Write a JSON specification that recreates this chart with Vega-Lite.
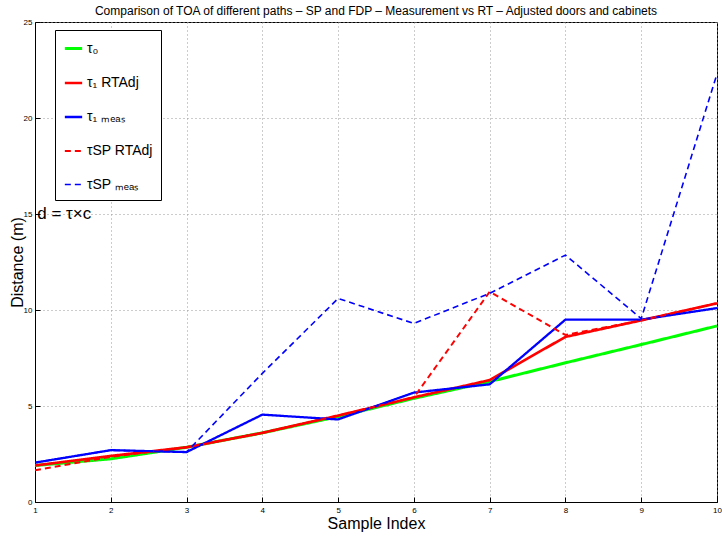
{
  "$schema": "https://vega.github.io/schema/vega-lite/v6.json",
  "width": 682,
  "height": 480,
  "autosize": "none",
  "padding": {"left": 35, "top": 22, "right": 5, "bottom": 36},
  "background": "white",
  "title": {"text": "Comparison of TOA of different paths – SP and FDP – Measurement vs RT – Adjusted doors and cabinets", "fontSize": 12, "font": "Liberation Sans", "fontWeight": "normal", "offset": 0, "anchor": "middle"},
  "config": {
    "font": "Liberation Sans",
    "view": {"stroke": "black", "strokeWidth": 1},
    "axis": {"grid": true, "gridColor": "#999", "gridDash": [1, 3], "gridWidth": 1, "domainColor": "black", "tickColor": "black", "labelFontSize": 8, "labelColor": "black", "titleFontSize": 16, "titleFontWeight": "normal", "titleColor": "black", "labelFont": "Liberation Sans", "titleFont": "Liberation Sans"},
    "legend": {"orient": "none", "legendX": 20, "legendY": 8, "strokeColor": "black", "fillColor": "white", "padding": 8, "labelFontSize": 14, "labelFont": "Liberation Sans", "labelColor": "black", "symbolType": "stroke", "symbolSize": 300, "rowPadding": 17, "labelOffset": 3, "labelLimit": 200}
  },
  "data": {"values": [
    {"i": 1, "s": "t0", "d": 1.9}, {"i": 2, "s": "t0", "d": 2.25}, {"i": 3, "s": "t0", "d": 2.85}, {"i": 4, "s": "t0", "d": 3.6}, {"i": 5, "s": "t0", "d": 4.45}, {"i": 6, "s": "t0", "d": 5.4}, {"i": 7, "s": "t0", "d": 6.27}, {"i": 8, "s": "t0", "d": 7.25}, {"i": 9, "s": "t0", "d": 8.2}, {"i": 10, "s": "t0", "d": 9.17},
    {"i": 1, "s": "t1rt", "d": 1.9}, {"i": 2, "s": "t1rt", "d": 2.4}, {"i": 3, "s": "t1rt", "d": 2.85}, {"i": 4, "s": "t1rt", "d": 3.6}, {"i": 5, "s": "t1rt", "d": 4.5}, {"i": 6, "s": "t1rt", "d": 5.45}, {"i": 7, "s": "t1rt", "d": 6.35}, {"i": 8, "s": "t1rt", "d": 8.6}, {"i": 9, "s": "t1rt", "d": 9.46}, {"i": 10, "s": "t1rt", "d": 10.35},
    {"i": 1, "s": "t1m", "d": 2.05}, {"i": 2, "s": "t1m", "d": 2.7}, {"i": 3, "s": "t1m", "d": 2.6}, {"i": 4, "s": "t1m", "d": 4.55}, {"i": 5, "s": "t1m", "d": 4.3}, {"i": 6, "s": "t1m", "d": 5.7}, {"i": 7, "s": "t1m", "d": 6.13}, {"i": 8, "s": "t1m", "d": 9.5}, {"i": 9, "s": "t1m", "d": 9.5}, {"i": 10, "s": "t1m", "d": 10.1},
    {"i": 1, "s": "tsprt", "d": 1.65}, {"i": 2, "s": "tsprt", "d": 2.35}, {"i": 3, "s": "tsprt", "d": 2.85}, {"i": 4, "s": "tsprt", "d": 3.6}, {"i": 5, "s": "tsprt", "d": 4.5}, {"i": 6, "s": "tsprt", "d": 5.45}, {"i": 7, "s": "tsprt", "d": 10.95}, {"i": 8, "s": "tsprt", "d": 8.7}, {"i": 9, "s": "tsprt", "d": 9.46}, {"i": 10, "s": "tsprt", "d": 10.35},
    {"i": 1, "s": "tspm", "d": 2.05}, {"i": 2, "s": "tspm", "d": 2.7}, {"i": 3, "s": "tspm", "d": 2.6}, {"i": 4, "s": "tspm", "d": 6.7}, {"i": 5, "s": "tspm", "d": 10.6}, {"i": 6, "s": "tspm", "d": 9.3}, {"i": 7, "s": "tspm", "d": 10.87}, {"i": 8, "s": "tspm", "d": 12.86}, {"i": 9, "s": "tspm", "d": 9.55}, {"i": 10, "s": "tspm", "d": 22.3}
  ]},
  "layer": [
    {
      "mark": {"type": "line", "clip": true},
      "encoding": {
        "x": {"field": "i", "type": "quantitative", "scale": {"domain": [1, 10], "nice": false}, "axis": {"values": [1,2,3,4,5,6,7,8,9,10], "format": "d", "title": "Sample Index", "tickSize": -5, "labelFlush": false, "titlePadding": 1, "labelPadding": 9}},
        "y": {"field": "d", "type": "quantitative", "scale": {"domain": [0, 25], "nice": false}, "axis": {"values": [0,5,10,15,20,25], "format": "d", "title": "Distance (m)", "tickSize": -5, "titlePadding": -2, "labelPadding": 8}},
        "color": {"field": "s", "type": "nominal", "scale": {"domain": ["t0", "t1rt", "t1m", "tsprt", "tspm"], "range": ["#00ff00", "#ff0000", "#0000ff", "#ff0000", "#0000ff"]}, "legend": {"title": null, "labelExpr": "{'t0': 'τ₀', 't1rt': 'τ₁ RTAdj', 't1m': 'τ₁ ₘₑₐₛ', 'tsprt': 'τSP RTAdj', 'tspm': 'τSP ₘₑₐₛ'}[datum.value]"}},
        "strokeDash": {"field": "s", "type": "nominal", "scale": {"domain": ["t0", "t1rt", "t1m", "tsprt", "tspm"], "range": [[1, 0], [1, 0], [1, 0], [6, 4], [6, 4]]}, "legend": {"title": null, "labelExpr": "{'t0': 'τ₀', 't1rt': 'τ₁ RTAdj', 't1m': 'τ₁ ₘₑₐₛ', 'tsprt': 'τSP RTAdj', 'tspm': 'τSP ₘₑₐₛ'}[datum.value]"}},
        "strokeWidth": {"field": "s", "type": "nominal", "scale": {"domain": ["t0", "t1rt", "t1m", "tsprt", "tspm"], "range": [3, 1.6, 1.6, 1.6, 1.6]}, "legend": {"title": null, "labelExpr": "{'t0': 'τ₀', 't1rt': 'τ₁ RTAdj', 't1m': 'τ₁ ₘₑₐₛ', 'tsprt': 'τSP RTAdj', 'tspm': 'τSP ₘₑₐₛ'}[datum.value]"}},
        "order": {"field": "i"}
      }
    },
    {
      "data": {"values": [{"label": "d = τ×c"}]},
      "mark": {"type": "text", "align": "left", "baseline": "middle", "fontSize": 17, "font": "Liberation Sans", "color": "black"},
      "encoding": {"x": {"datum": 1.03}, "y": {"datum": 15}, "text": {"field": "label"}}
    }
  ]
}
